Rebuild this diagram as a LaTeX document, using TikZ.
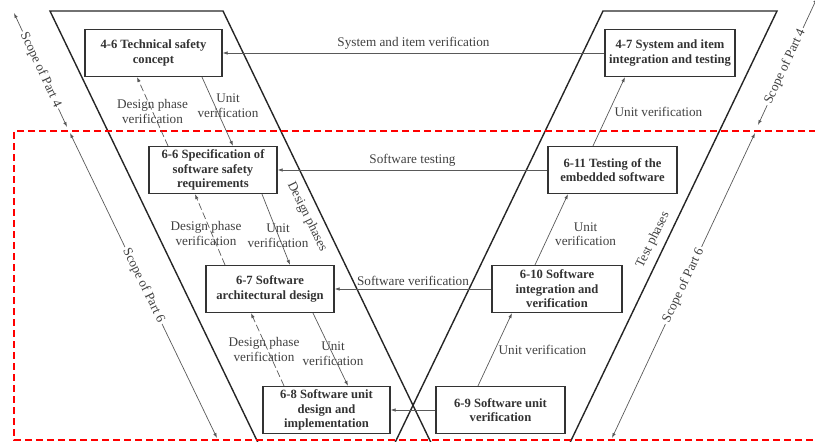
\documentclass[tikz,border=0pt]{standalone}
\usepackage{fontspec}
\setmainfont{Liberation Serif}
\usetikzlibrary{arrows.meta}

\begin{document}
\begin{tikzpicture}[x=1pt,y=-1pt]
	\useasboundingbox (0,0) rectangle (815,442);
		% design and test phases
		\draw[line width=1.4pt, black!85] (259.6,446) -- (50,11) -- (223,11) -- (432.6,446);
		\draw[line width=1.4pt, black!85] (393.4,446) -- (603,11) -- (777,11) -- (568.4,446);
		% scope of part 6
		\draw[red, line width=1.6pt, dash pattern=on 7pt off 4pt] (816,131) -- (14,131) -- (14,440) -- (816,440);

		\begin{scope}
			[
				styleBox/.style={
					minimum width = #1, minimum height = 47pt, draw = black!80,
					line width = 1.2pt, fill = white, text = black!80, align = center,
					inner sep = 1pt, font = \bfseries\fontsize{12.6}{14.5}\selectfont
					},
				styleText/.style={text = black!75, font = \fontsize{13.2}{14.5}\selectfont},
			]
			\node(tsc)[styleBox=137pt] at (153.5,53) {4-6 Technical safety\\concept};
			\node(swreq)[styleBox=128pt] at (213,170) {6-6 Specification of\\software safety\\requirements};
			\node(arch)[styleBox=128pt] at (270,289) {6-7 Software\\architectural design};
			\node(unit)[styleBox=127pt] at (326.5,410) {6-8 Software unit\\design and\\implementation};

			\node(unitver)[styleBox=129pt] at (500.5,410) {6-9 Software unit\\verification};
			\node(integ)[styleBox=130pt] at (557,289) {6-10 Software\\integration and\\verification};
			\node(embtest)[styleBox=129pt] at (612.5,170) {6-11 Testing of the\\embedded software};
			\node(sysint)[styleBox=130pt] at (670,53) {4-7 System and item\\integration and testing};

			\node(dphase)[styleText, rotate=-64] at (307,217) {Design phases};
			\node(tphase)[styleText, rotate=64] at (653,240) {Test phases};

			% scope arrows
			\coordinate (lp4a) at (14,13);
			\coordinate (lp4b) at (67,127);
			\coordinate (lp6a) at (70,133);
			\coordinate (lp6b) at (217,438);
			\coordinate (rp4a) at (758,125);
			\coordinate (rp4b) at (817,-2);
			\coordinate (rp6a) at (612,438);
			\coordinate (rp6b) at (755,133);
		\end{scope}

		\begin{scope}
			[ uver/.style = {-{Latex[length=5pt,width=3.5pt]}, draw = black!65, line width = 0.7pt},
				dver/.style = {uver, dash pattern = on 7pt off 3pt},
				scope/.style = {{Latex[length=5pt,width=3.5pt]}-{Latex[length=5pt,width=3.5pt]}, draw = black!65, line width = 0.7pt},
				lbl/.style = {text = black!75, font = \fontsize{13.2}{14.5}\selectfont, align = center},
				scl/.style = {lbl, sloped, fill = white, inner sep = 2pt}]
			\path
			(sysint) edge[uver]                 node[lbl, above]{System and item verification}(tsc)
			(embtest) edge[uver]                node[lbl, above]{Software testing}(swreq)
			(integ) edge[uver]                  node[lbl, above]{Software verification}(arch)
			(unitver) edge[uver]                node{}(unit)

			([xshift=48.5pt]tsc.south) edge[uver]   node[lbl, xshift=10.5pt, yshift=6pt]{Unit\\verification}([xshift=20pt]swreq.north)
			([xshift=-45pt]swreq.north) edge[dver]  node[lbl]{Design phase\\verification}([xshift=-16.5pt]tsc.south)
			([xshift=49pt]swreq.south) edge[uver]   node[lbl, xshift=2pt, yshift=-6pt]{Unit\\verification}([xshift=20pt]arch.north)
			([xshift=-45pt]arch.north) edge[dver]   node[lbl, xshift=-4pt, yshift=-4pt]{Design phase\\verification}([xshift=-18pt]swreq.south)
			([xshift=43pt]arch.south) edge[uver]    node[lbl, xshift=2.5pt, yshift=-4pt]{Unit\\verification}([xshift=21.5pt]unit.north)
			([xshift=-42.5pt]unit.north) edge[dver] node[lbl, xshift=-3.5pt]{Design phase\\verification}([xshift=-19pt]arch.south)

			([xshift=-22.5pt]unitver.north) edge[uver] node[lbl, right]{Unit verification}([xshift=-45pt]integ.south)
			([xshift=-22pt]integ.north) edge[uver]     node[lbl, right, yshift=-4.5pt]{Unit\\verification}([xshift=-44.5pt]embtest.south)
			([xshift=-19.5pt]embtest.north) edge[uver] node[lbl, right, xshift=2pt]{Unit verification}([xshift=-45pt]sysint.south)

			(lp4a) edge[scope]                  node[scl]{Scope of Part 4}(lp4b)
			(lp6a) edge[scope]                  node[scl]{Scope of Part 6}(lp6b)
			(rp4a) edge[scope]                  node[scl, pos=0.46]{Scope of Part 4}(rp4b)
			(rp6a) edge[scope]                  node[scl]{Scope of Part 6}(rp6b);
		\end{scope}
\end{tikzpicture}
\end{document}
